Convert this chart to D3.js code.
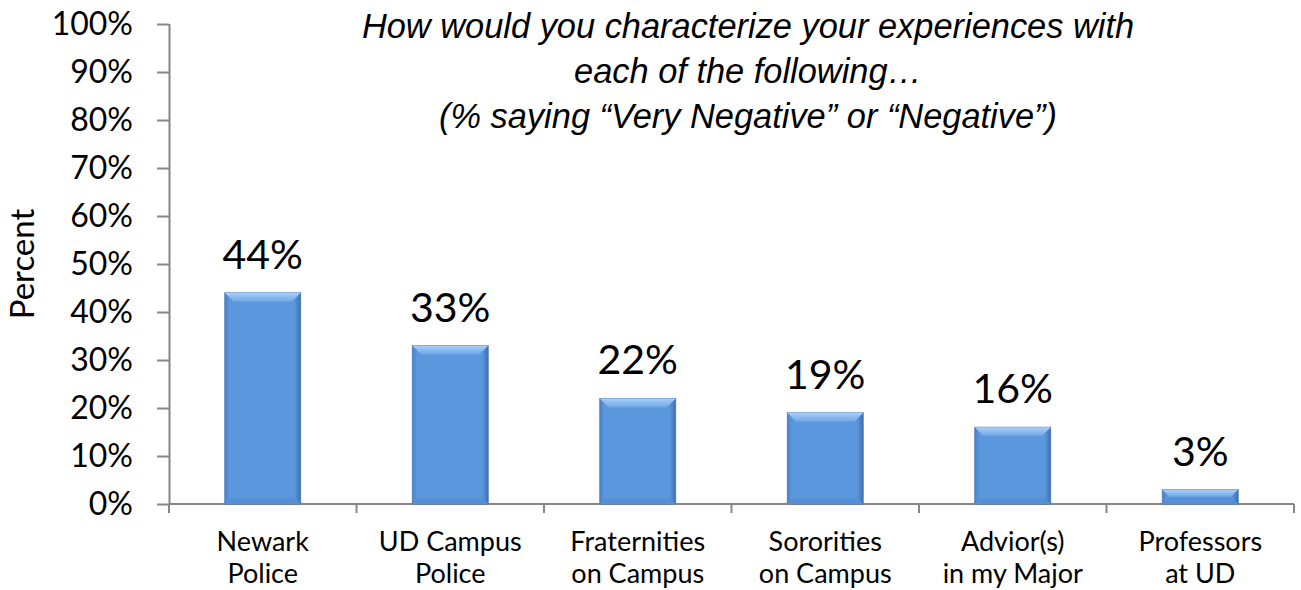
<!DOCTYPE html>
<html lang="en">
<head>
<meta charset="UTF-8">
<title>Negative experiences</title>
<style>
  body { margin: 0; background: #fff; }
  svg { display: block; }
</style>
</head>
<body>
<script src="https://d3js.org/d3.v7.min.js"></script>
<div id="chart"></div>
<script>
// data
const categories = [
  ["Newark", "Police"],
  ["UD Campus", "Police"],
  ["Fraternities", "on Campus"],
  ["Sororities", "on Campus"],
  ["Advior(s)", "in my Major"],
  ["Professors", "at UD"]
];
const values = [44, 33, 22, 19, 16, 3];
const yTicks = [0, 10, 20, 30, 40, 50, 60, 70, 80, 90, 100];
const titleLines = [
  "How would you characterize your experiences with",
  "each of the following\u2026",
  "(% saying \u201cVery Negative\u201d or \u201cNegative\u201d)"
];

const width = 1301, height = 590;
const margin = {top: 24, right: 7, bottom: 86, left: 169};

const svg = d3.select("#chart").append("svg")
  .attr("width", width)
  .attr("height", height);

const defs = svg.append("defs");
const sideGrad = defs.append("linearGradient").attr("id", "barSide")
  .attr("x1", 0).attr("x2", 1).attr("y1", 0).attr("y2", 0);
sideGrad.append("stop").attr("offset", "0%").attr("stop-color", "#4a82c8");
sideGrad.append("stop").attr("offset", "6%").attr("stop-color", "#5b97dd");
sideGrad.append("stop").attr("offset", "92%").attr("stop-color", "#5b97dd");
sideGrad.append("stop").attr("offset", "100%").attr("stop-color", "#3f6fae");
const topGrad = defs.append("linearGradient").attr("id", "barTop")
  .attr("x1", 0).attr("x2", 0).attr("y1", 0).attr("y2", 1);
topGrad.append("stop").attr("offset", "0%").attr("stop-color", "#a9d0f8");
topGrad.append("stop").attr("offset", "100%").attr("stop-color", "#6ea6e6");

const idx = values.map((d, i) => i);

const x = d3.scaleBand()
  .domain(idx)
  .range([margin.left, width - margin.right])
  .paddingInner(0.595)
  .paddingOuter(0.2975);

const y = d3.scaleLinear()
  .domain([0, 100])
  .range([height - margin.bottom, margin.top]);

const gray = "#868686";

// y axis
const yAxis = svg.append("g")
  .attr("transform", `translate(${margin.left},0)`)
  .call(d3.axisLeft(y).tickValues(yTicks).tickSize(12).tickPadding(24)
    .tickFormat(d => d + "%"));
yAxis.select(".domain").attr("stroke", gray).attr("stroke-width", 2)
  .attr("d", `M0.5,${y(100)}V${y(0)}`);
yAxis.selectAll(".tick line").attr("stroke", gray).attr("stroke-width", 2);
yAxis.selectAll(".tick text")
  .attr("font-family", "Lato, sans-serif")
  .attr("font-size", 32)
  .attr("fill", "#000");

// x axis baseline and tick marks at band boundaries
const step = x.step();
const bounds = d3.range(categories.length + 1).map(i => margin.left + i * step);
svg.append("line")
  .attr("x1", margin.left).attr("x2", bounds[bounds.length - 1])
  .attr("y1", y(0)).attr("y2", y(0))
  .attr("stroke", gray).attr("stroke-width", 2);
svg.selectAll(".xtick").data(bounds).join("line")
  .attr("class", "xtick")
  .attr("x1", d => d).attr("x2", d => d)
  .attr("y1", y(0)).attr("y2", y(0) + 9)
  .attr("stroke", gray).attr("stroke-width", 2);

// bars
const bev = 9;
const bars = svg.append("g").selectAll("g").data(idx).join("g");
bars.append("rect")
  .attr("x", i => x(i))
  .attr("y", i => y(values[i]))
  .attr("width", x.bandwidth())
  .attr("height", i => y(0) - y(values[i]))
  .attr("fill", "url(#barSide)")
  .attr("stroke", "#4577b6")
  .attr("stroke-width", 0.8);
bars.append("path")
  .attr("fill", "url(#barTop)")
  .attr("d", i => {
    const x0 = x(i), x1 = x(i) + x.bandwidth(), yt = y(values[i]);
    const b = Math.min(bev, (y(0) - yt) / 2);
    return `M${x0},${yt}L${x1},${yt}L${x1 - b},${yt + b}L${x0 + b},${yt + b}Z`;
  });
bars.append("path")
  .attr("fill", "#5590d6")
  .attr("d", i => {
    const x0 = x(i), x1 = x(i) + x.bandwidth(), yb = y(0);
    const b = Math.min(6, (y(0) - y(values[i])) / 2);
    return `M${x0},${yb}L${x1},${yb}L${x1 - b},${yb - b}L${x0 + b},${yb - b}Z`;
  });

// value labels
svg.selectAll(".val").data(idx).join("text")
  .attr("class", "val")
  .attr("x", i => x(i) + x.bandwidth() / 2)
  .attr("y", i => y(values[i]) - 24)
  .attr("text-anchor", "middle")
  .attr("font-family", "Lato, sans-serif")
  .attr("font-size", 41)
  .attr("fill", "#000")
  .text(i => values[i] + "%");

// category labels
const cat = svg.selectAll(".cat").data(idx).join("text")
  .attr("class", "cat")
  .attr("text-anchor", "middle")
  .attr("font-family", "Lato, sans-serif")
  .attr("font-size", 27)
  .attr("fill", "#000");
cat.selectAll("tspan").data(i => categories[i].map(t => ({t, i}))).join("tspan")
  .attr("x", d => x(d.i) + x.bandwidth() / 2)
  .attr("y", (d, j) => y(0) + 47 + j * 32)
  .text(d => d.t);

// y axis title
svg.append("text")
  .attr("transform", `translate(34,${y(50)}) rotate(-90)`)
  .attr("text-anchor", "middle")
  .attr("font-family", "Lato, sans-serif")
  .attr("font-size", 33)
  .attr("fill", "#000")
  .text("Percent");

// chart title
svg.append("text")
  .attr("text-anchor", "middle")
  .attr("font-family", "'Liberation Sans', Arial, sans-serif")
  .attr("font-style", "italic")
  .attr("font-size", 34.4)
  .attr("fill", "#000")
  .selectAll("tspan").data(titleLines).join("tspan")
  .attr("x", 748)
  .attr("y", (d, i) => 38 + i * 45)
  .text(d => d);
</script>
</body>
</html>
